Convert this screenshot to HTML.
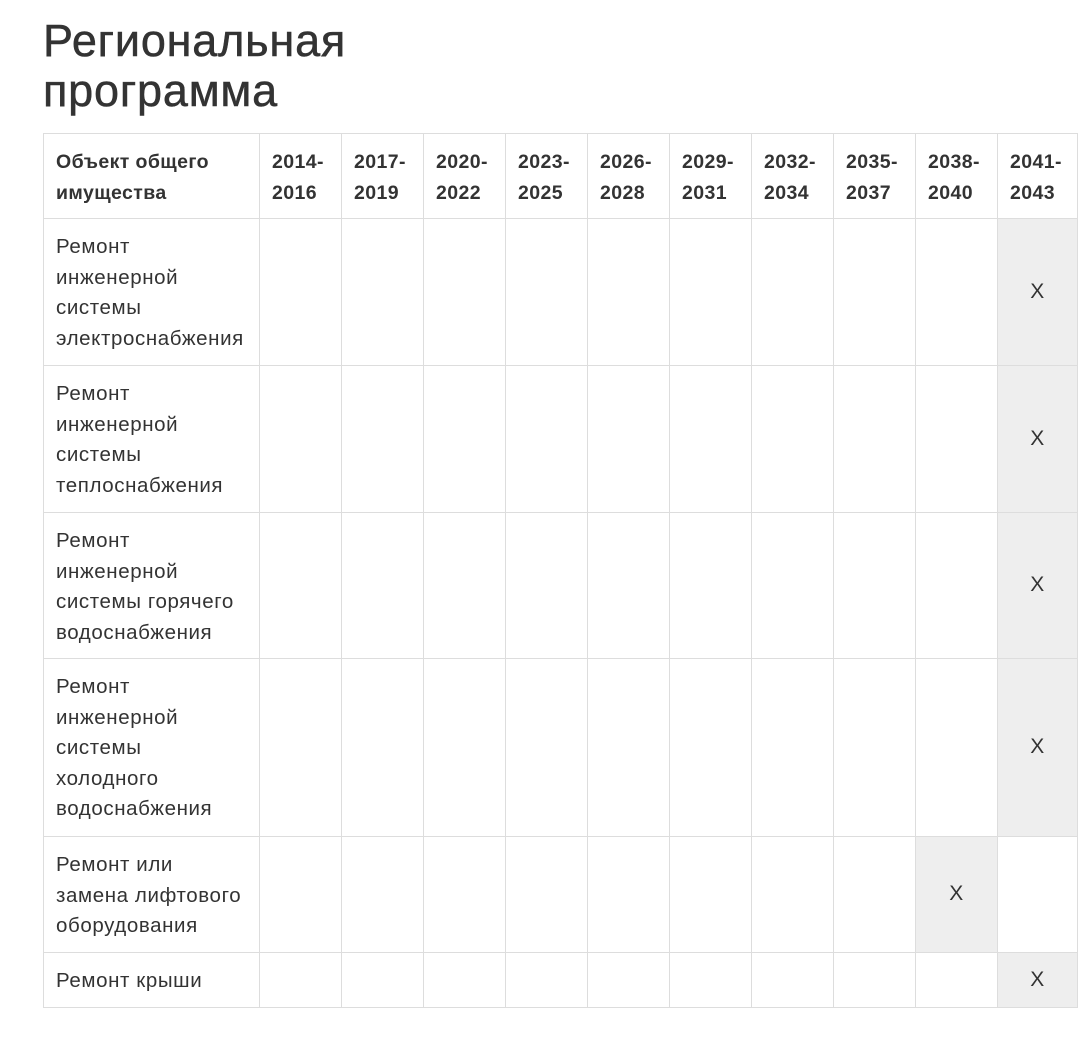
<!DOCTYPE html>
<html><head><meta charset="utf-8"><style>
body{margin:0;width:1080px;height:1048px;background:#fff;font-family:"Liberation Sans","DejaVu Sans",sans-serif;color:#333;position:relative;overflow:hidden}
h1{position:absolute;left:43px;top:16px;margin:0;font-size:45px;font-weight:normal;line-height:50px;color:#333;letter-spacing:0.8px;-webkit-text-stroke:0.5px #333}
.c{position:absolute;box-sizing:border-box;border-right:1px solid #ddd;border-bottom:1px solid #ddd;font-size:20.5px;line-height:30.5px;padding:13px 0 0 12px;letter-spacing:0.6px;white-space:nowrap}
.h{font-weight:bold;font-size:19.5px;line-height:31px;padding-top:13px;letter-spacing:0.4px}
.g{background:#eeeeee}
.x{display:flex;align-items:center;justify-content:center;padding:0;font-size:21px}
</style></head><body>
<h1>Региональная<br>программа</h1>
<div id="t"></div>
<script>
var xs=[43,260,342,424,506,588,670,752,834,916,998,1078];
var ys=[133,219,366,513,659,837,953,1008];
var heads=["Объект общего<br>имущества","2014-<br>2016","2017-<br>2019","2020-<br>2022","2023-<br>2025","2026-<br>2028","2029-<br>2031","2032-<br>2034","2035-<br>2037","2038-<br>2040","2041-<br>2043"];
var rows=[["Ремонт<br>инженерной<br>системы<br>электроснабжения",10],["Ремонт<br>инженерной<br>системы<br>теплоснабжения",10],["Ремонт<br>инженерной<br>системы горячего<br>водоснабжения",10],["Ремонт<br>инженерной<br>системы<br>холодного<br>водоснабжения",10],["Ремонт или<br>замена лифтового<br>оборудования",9],["Ремонт крыши",10]];
var h='';
function cell(r,c,cls,txt){var l=xs[c],t=ys[r],w=xs[c+1]-l,hh=ys[r+1]-t;
var st='left:'+l+'px;top:'+t+'px;width:'+w+'px;height:'+hh+'px;';
if(c==0)st+='border-left:1px solid #ddd;';if(r==0)st+='border-top:1px solid #ddd;';
h+='<div class="c '+cls+'" style="'+st+'">'+txt+'</div>';}
for(var c=0;c<11;c++)cell(0,c,'h',heads[c]);
for(var r=0;r<6;r++){cell(r+1,0,'',rows[r][0]);for(var c=1;c<11;c++){if(c==rows[r][1])cell(r+1,c,'g x','X');else cell(r+1,c,'','');}}
document.getElementById('t').innerHTML=h;
</script>
</body></html>
